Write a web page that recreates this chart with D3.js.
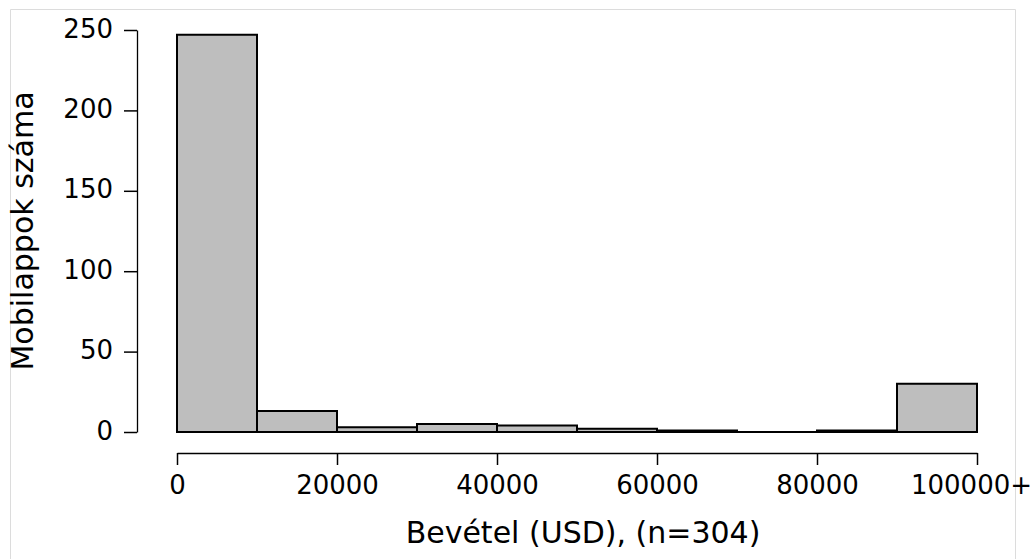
<!DOCTYPE html>
<html><head><meta charset="utf-8">
<script src="https://cdn.jsdelivr.net/npm/d3@7"></script>
<style>body{margin:0;background:#fff;} svg{display:block;}</style>
</head><body>
<script>
const binStarts = [0,10000,20000,30000,40000,50000,60000,70000,80000,90000];
const binWidth = 10000;
const counts = [247,13,3,5,4,2,1,0,1,30];
const xTicks = [0,20000,40000,60000,80000,100000];
const xTickLabels = ["0","20000","40000","60000","80000","100000+"];
const yTicks = [0,50,100,150,200,250];
const xTitle = "Bevétel (USD), (n=304)";
const yTitle = "Mobilappok száma";

const W=1035,H=559;
const svg=d3.select("body").append("svg").attr("width",W).attr("height",H);
const font="'DejaVu Sans', Verdana, sans-serif";

// frame
svg.append("path").attr("d","M10.5,559 V9.5 H1015.5 V559").attr("fill","none").attr("stroke","#dcdcdc").attr("stroke-width",1);

const x=d3.scaleLinear().domain([0,100000]).range([177,977]);
const y=d3.scaleLinear().domain([0,250]).range([432,30]);

svg.selectAll("path.bar").data(binStarts.map((s,i)=>({s,c:counts[i]}))).enter().append("path")
  .attr("class","bar")
  .attr("d",d=>{const x0=x(d.s),x1=x(d.s+binWidth),y0=y(0),y1=y(d.c);
     return `M${x0},${y0}V${y1}H${x1}V${y0}Z`;})
  .attr("fill","#bebebe").attr("stroke","#000").attr("stroke-width",2);

// y axis
const ya=svg.append("g").attr("transform","translate(137,0)")
  .call(d3.axisLeft(y).tickValues(yTicks).tickSize(13).tickPadding(11).tickSizeOuter(0));
ya.select(".domain").attr("stroke","#000").attr("stroke-width",1.3);
ya.selectAll(".tick line").attr("stroke","#000").attr("stroke-width",1.5);
ya.selectAll(".tick text").attr("font-family",font).attr("font-size",26).attr("fill","#000").attr("dy","0.27em");

// x axis
const xa=svg.append("g").attr("transform","translate(0,453)")
  .call(d3.axisBottom(x).tickValues(xTicks).tickFormat((d,i)=>xTickLabels[i]).tickSize(12).tickPadding(8).tickSizeOuter(0));
xa.select(".domain").attr("stroke","#000").attr("stroke-width",1.3);
xa.selectAll(".tick line").attr("stroke","#000").attr("stroke-width",1.5);
xa.selectAll(".tick text").attr("font-family",font).attr("font-size",26).attr("fill","#000").attr("dy","0.8em")
  .attr("dx",(d,i)=> i===xTicks.length-1 ? -6 : 0);

svg.append("text").attr("x",583).attr("y",543).attr("text-anchor","middle")
  .attr("font-family",font).attr("font-size",30).attr("fill","#000").text(xTitle);
svg.append("text").attr("transform","translate(33,231) rotate(-90)").attr("text-anchor","middle")
  .attr("font-family",font).attr("font-size",30).attr("fill","#000").text(yTitle);
</script>
</body></html>
